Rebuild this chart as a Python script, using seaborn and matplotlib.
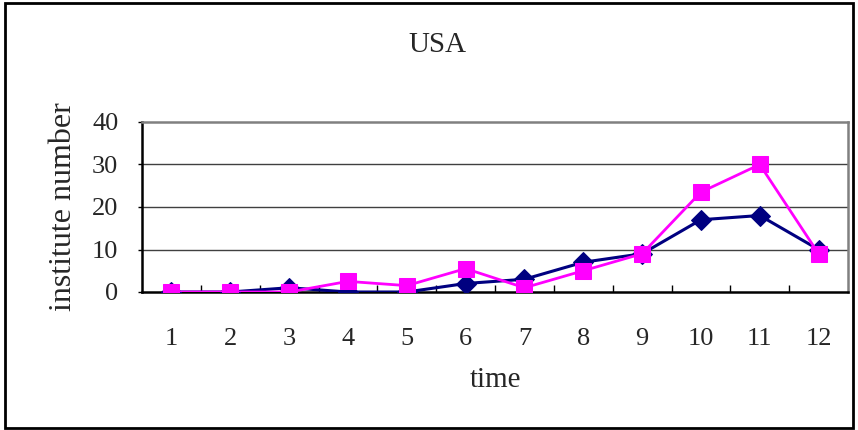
import matplotlib
matplotlib.use("Agg")
import matplotlib.pyplot as plt
import seaborn as sns
import pandas as pd
from matplotlib.patches import Rectangle

# values
time = [1, 2, 3, 4, 5, 6, 7, 8, 9, 10, 11, 12]
navy_series = [0, 0, 1, 0, 0, 2, 3, 7, 9, 17, 18, 10]
magenta_series = [0, 0, 0, 2.5, 1.5, 5.5, 1, 5, 9, 23.5, 30, 9]
y_ticks = [0, 10, 20, 30, 40]

sns.set_style("white")
plt.rcParams['font.family'] = ['Liberation Serif', 'DejaVu Serif']

df = pd.DataFrame({'time': time, 'navy': navy_series, 'magenta': magenta_series})

fig = plt.figure(figsize=(8.58, 4.30), dpi=100)
ax = fig.add_axes([142 / 858, 1 - 292 / 430, 706 / 858, 170 / 430])

# outer chart border
fig.patches.append(Rectangle((5 / 858, 2 / 430), 848 / 858, 425 / 430,
                             transform=fig.transFigure, fill=False,
                             edgecolor='black', linewidth=2, zorder=0))

for yv in y_ticks[1:-1]:
    ax.axhline(yv, color='#404040', linewidth=1.0, zorder=1)

sns.lineplot(data=df, x='time', y='navy', ax=ax, color='#000080',
             marker='D', markersize=10, markeredgecolor='#000080',
             linewidth=2.2, zorder=3)
sns.lineplot(data=df, x='time', y='magenta', ax=ax, color='#FF00FF',
             marker='s', markersize=11, markeredgecolor='#FF00FF',
             linewidth=2.0, zorder=4)

ax.set_xlim(0.5, 12.5)
ax.set_ylim(0, 40)
ax.set_yticks(y_ticks)
ax.set_xticks(time)
ax.set_xticklabels([str(t) for t in time])
ax.set_xticks([t + 0.5 for t in time[:-1]], minor=True)

ax.tick_params(axis='x', which='major', length=0, pad=26, labelsize=19)
ax.tick_params(axis='x', which='minor', direction='in', length=5, width=1,
               color='black', bottom=True)
ax.tick_params(axis='y', direction='out', length=3, width=1, pad=14,
               labelsize=19, left=True, color='black')

for side in ['left', 'bottom']:
    ax.spines[side].set_color('black')
    ax.spines[side].set_linewidth(1.8)
for side in ['top', 'right']:
    ax.spines[side].set_color('#808080')
    ax.spines[side].set_linewidth(1.8)
    ax.spines[side].set_visible(True)

ax.set_xlabel('time', fontsize=21, labelpad=12)
ax.set_ylabel('institute number', fontsize=23, labelpad=10)
fig.text(437 / 858, 1 - 45 / 430, 'USA', fontsize=21, ha='center', va='center')

fig.savefig('out.png', dpi=100)
